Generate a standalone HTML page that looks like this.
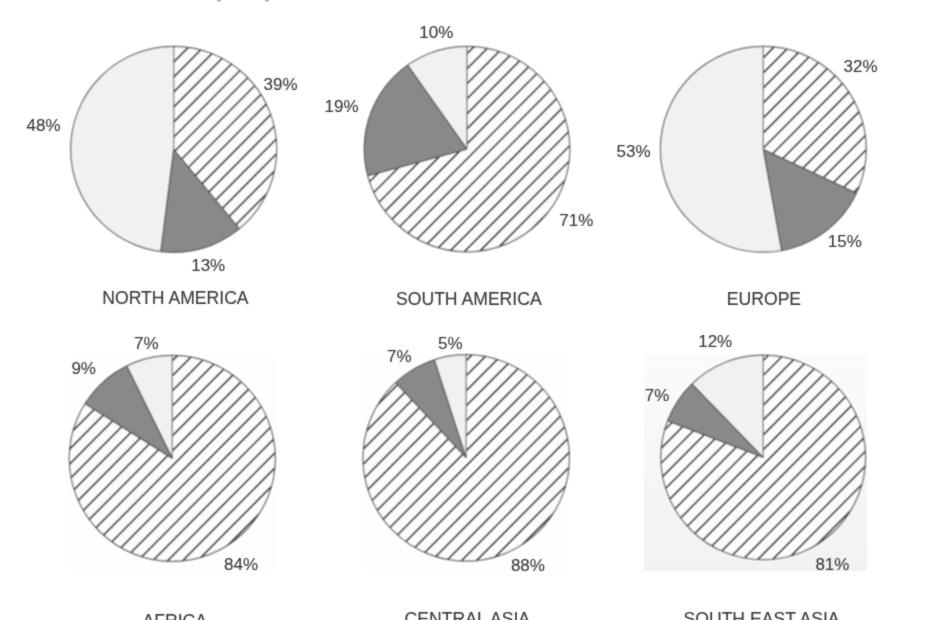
<!DOCTYPE html><html><head><meta charset="utf-8"><style>html,body{margin:0;padding:0;background:#fff;width:930px;height:620px;overflow:hidden}svg{display:block}text{font-family:"Liberation Sans",sans-serif}</style></head><body>
<svg width="930" height="620" viewBox="0 0 930 620">
<defs><filter id="bl" x="-5%" y="-5%" width="110%" height="110%"><feConvolveMatrix order="3" kernelMatrix="1 2 1 2 4 2 1 2 1" divisor="16" edgeMode="none"/></filter><filter id="bt" x="-5%" y="-5%" width="110%" height="110%"><feConvolveMatrix order="3" kernelMatrix="1 2 1 2 16 2 1 2 1" divisor="28" edgeMode="none"/></filter>
<clipPath id="h0"><path d="M173.70,149.30 L173.70,46.30 A103.00,103.00 0 0 1 239.35,228.66 Z"/></clipPath>
<clipPath id="h1"><path d="M467.00,149.10 L467.00,46.30 A102.80,102.80 0 1 1 367.76,175.91 Z"/></clipPath>
<clipPath id="h2"><path d="M763.30,149.30 L763.30,46.40 A102.90,102.90 0 0 1 856.41,193.11 Z"/></clipPath>
<clipPath id="h3"><path d="M172.30,458.40 L172.30,355.40 A103.00,103.00 0 1 1 84.99,403.76 Z"/></clipPath>
<clipPath id="h4"><path d="M466.20,457.90 L466.20,354.70 A103.20,103.20 0 1 1 395.55,382.67 Z"/></clipPath>
<clipPath id="h5"><path d="M763.20,457.40 L763.20,355.10 A102.30,102.30 0 1 1 667.64,420.88 Z"/></clipPath>
</defs>
<rect width="930" height="620" fill="#fff"/>
<defs><linearGradient id="sg" x1="0" y1="0" x2="0" y2="1"><stop offset="0" stop-color="#fbfbfb"/><stop offset="1" stop-color="#f2f2f2"/></linearGradient></defs><rect x="644" y="354" width="223" height="217" fill="url(#sg)"/>
<rect x="361" y="350" width="208" height="221" fill="#fefefe"/>
<rect x="68" y="354" width="209" height="218" fill="#fefefe"/>
<g filter="url(#bl)">
<ellipse cx="219" cy="0" rx="2" ry="1.6" fill="#a0a0a0"/><ellipse cx="267" cy="0" rx="2" ry="1.6" fill="#a0a0a0"/>
<path d="M173.70,149.30 L239.35,228.66 A103.00,103.00 0 0 1 160.79,251.49 Z" fill="#898989"/>
<path d="M173.70,149.30 L160.79,251.49 A103.00,103.00 0 0 1 173.70,46.30 Z" fill="#f1f1f1"/>
<path d="M173.70,149.30 L173.70,46.30 A103.00,103.00 0 0 1 239.35,228.66 Z" fill="#fcfcfc"/>
<path clip-path="url(#h0)" d="M65.70,-24.57L281.70,-241.87M65.70,-9.55L281.70,-226.85M65.70,5.47L281.70,-211.83M65.70,20.49L281.70,-196.81M65.70,35.51L281.70,-181.79M65.70,50.53L281.70,-166.77M65.70,65.55L281.70,-151.75M65.70,80.57L281.70,-136.73M65.70,95.59L281.70,-121.71M65.70,110.61L281.70,-106.69M65.70,125.63L281.70,-91.67M65.70,140.65L281.70,-76.65M65.70,155.67L281.70,-61.63M65.70,170.69L281.70,-46.61M65.70,185.71L281.70,-31.59M65.70,200.73L281.70,-16.57M65.70,215.75L281.70,-1.55M65.70,230.77L281.70,13.47M65.70,245.79L281.70,28.49M65.70,260.81L281.70,43.51M65.70,275.83L281.70,58.53M65.70,290.85L281.70,73.55M65.70,305.87L281.70,88.57M65.70,320.89L281.70,103.59M65.70,335.91L281.70,118.61M65.70,350.93L281.70,133.63M65.70,365.95L281.70,148.65M65.70,380.97L281.70,163.67M65.70,395.99L281.70,178.69M65.70,411.01L281.70,193.71M65.70,426.03L281.70,208.73M65.70,441.05L281.70,223.75M65.70,456.07L281.70,238.77" stroke="#1c1c1c" stroke-width="1.7" fill="none"/>
<line x1="173.70" y1="149.30" x2="173.70" y2="46.30" stroke="#7a7a7a" stroke-width="1.3"/>
<line x1="173.70" y1="149.30" x2="239.35" y2="228.66" stroke="#555" stroke-width="1.3"/>
<line x1="173.70" y1="149.30" x2="160.79" y2="251.49" stroke="#555" stroke-width="1.3"/>
<circle cx="173.70" cy="149.30" r="103.00" fill="none" stroke="#5e5e5e" stroke-width="1.2"/>
<path d="M467.00,149.10 L367.76,175.91 A102.80,102.80 0 0 1 407.63,65.18 Z" fill="#898989"/>
<path d="M467.00,149.10 L407.63,65.18 A102.80,102.80 0 0 1 467.00,46.30 Z" fill="#f1f1f1"/>
<path d="M467.00,149.10 L467.00,46.30 A102.80,102.80 0 1 1 367.76,175.91 Z" fill="#fcfcfc"/>
<path clip-path="url(#h1)" d="M359.20,-18.07L574.80,-234.97M359.20,-3.05L574.80,-219.95M359.20,11.97L574.80,-204.93M359.20,26.99L574.80,-189.91M359.20,42.01L574.80,-174.89M359.20,57.03L574.80,-159.87M359.20,72.05L574.80,-144.85M359.20,87.07L574.80,-129.83M359.20,102.09L574.80,-114.81M359.20,117.11L574.80,-99.79M359.20,132.13L574.80,-84.77M359.20,147.15L574.80,-69.75M359.20,162.17L574.80,-54.73M359.20,177.19L574.80,-39.71M359.20,192.21L574.80,-24.69M359.20,207.23L574.80,-9.67M359.20,222.25L574.80,5.35M359.20,237.27L574.80,20.37M359.20,252.29L574.80,35.39M359.20,267.31L574.80,50.41M359.20,282.33L574.80,65.43M359.20,297.35L574.80,80.45M359.20,312.37L574.80,95.47M359.20,327.39L574.80,110.49M359.20,342.41L574.80,125.51M359.20,357.43L574.80,140.53M359.20,372.45L574.80,155.55M359.20,387.47L574.80,170.57M359.20,402.49L574.80,185.59M359.20,417.51L574.80,200.61M359.20,432.53L574.80,215.63M359.20,447.55L574.80,230.65M359.20,462.57L574.80,245.67" stroke="#1c1c1c" stroke-width="1.7" fill="none"/>
<line x1="467.00" y1="149.10" x2="467.00" y2="46.30" stroke="#7a7a7a" stroke-width="1.3"/>
<line x1="467.00" y1="149.10" x2="367.76" y2="175.91" stroke="#555" stroke-width="1.3"/>
<line x1="467.00" y1="149.10" x2="407.63" y2="65.18" stroke="#555" stroke-width="1.3"/>
<circle cx="467.00" cy="149.10" r="102.80" fill="none" stroke="#5e5e5e" stroke-width="1.2"/>
<path d="M763.30,149.30 L856.41,193.11 A102.90,102.90 0 0 1 781.69,250.54 Z" fill="#898989"/>
<path d="M763.30,149.30 L781.69,250.54 A102.90,102.90 0 1 1 763.30,46.40 Z" fill="#f1f1f1"/>
<path d="M763.30,149.30 L763.30,46.40 A102.90,102.90 0 0 1 856.41,193.11 Z" fill="#fcfcfc"/>
<path clip-path="url(#h2)" d="M655.40,-13.77L871.20,-230.87M655.40,1.25L871.20,-215.85M655.40,16.27L871.20,-200.83M655.40,31.29L871.20,-185.81M655.40,46.31L871.20,-170.79M655.40,61.33L871.20,-155.77M655.40,76.35L871.20,-140.75M655.40,91.37L871.20,-125.73M655.40,106.39L871.20,-110.71M655.40,121.41L871.20,-95.69M655.40,136.43L871.20,-80.67M655.40,151.45L871.20,-65.65M655.40,166.47L871.20,-50.63M655.40,181.49L871.20,-35.61M655.40,196.51L871.20,-20.59M655.40,211.53L871.20,-5.57M655.40,226.55L871.20,9.45M655.40,241.57L871.20,24.47M655.40,256.59L871.20,39.49M655.40,271.61L871.20,54.51M655.40,286.62L871.20,69.53M655.40,301.64L871.20,84.55M655.40,316.67L871.20,99.57M655.40,331.69L871.20,114.59M655.40,346.71L871.20,129.61M655.40,361.73L871.20,144.63M655.40,376.75L871.20,159.65M655.40,391.77L871.20,174.67M655.40,406.79L871.20,189.69M655.40,421.81L871.20,204.71M655.40,436.82L871.20,219.73M655.40,451.84L871.20,234.75M655.40,466.87L871.20,249.77" stroke="#1c1c1c" stroke-width="1.7" fill="none"/>
<line x1="763.30" y1="149.30" x2="763.30" y2="46.40" stroke="#7a7a7a" stroke-width="1.3"/>
<line x1="763.30" y1="149.30" x2="856.41" y2="193.11" stroke="#555" stroke-width="1.3"/>
<line x1="763.30" y1="149.30" x2="781.69" y2="250.54" stroke="#555" stroke-width="1.3"/>
<circle cx="763.30" cy="149.30" r="102.90" fill="none" stroke="#5e5e5e" stroke-width="1.2"/>
<path d="M172.30,458.40 L84.99,403.76 A103.00,103.00 0 0 1 126.81,365.99 Z" fill="#898989"/>
<path d="M172.30,458.40 L126.81,365.99 A103.00,103.00 0 0 1 172.30,355.40 Z" fill="#f1f1f1"/>
<path d="M172.30,458.40 L172.30,355.40 A103.00,103.00 0 1 1 84.99,403.76 Z" fill="#fcfcfc"/>
<path clip-path="url(#h3)" d="M64.30,274.23L280.30,56.93M64.30,289.25L280.30,71.95M64.30,304.27L280.30,86.97M64.30,319.29L280.30,101.99M64.30,334.31L280.30,117.01M64.30,349.33L280.30,132.03M64.30,364.35L280.30,147.05M64.30,379.37L280.30,162.07M64.30,394.39L280.30,177.09M64.30,409.41L280.30,192.11M64.30,424.43L280.30,207.13M64.30,439.45L280.30,222.15M64.30,454.47L280.30,237.17M64.30,469.49L280.30,252.19M64.30,484.51L280.30,267.21M64.30,499.53L280.30,282.23M64.30,514.55L280.30,297.25M64.30,529.57L280.30,312.27M64.30,544.59L280.30,327.29M64.30,559.61L280.30,342.31M64.30,574.63L280.30,357.33M64.30,589.65L280.30,372.35M64.30,604.67L280.30,387.37M64.30,619.69L280.30,402.39M64.30,634.71L280.30,417.41M64.30,649.73L280.30,432.43M64.30,664.75L280.30,447.45M64.30,679.77L280.30,462.47M64.30,694.79L280.30,477.49M64.30,709.81L280.30,492.51M64.30,724.83L280.30,507.53M64.30,739.85L280.30,522.55M64.30,754.87L280.30,537.57" stroke="#1c1c1c" stroke-width="1.7" fill="none"/>
<line x1="172.30" y1="458.40" x2="172.30" y2="355.40" stroke="#7a7a7a" stroke-width="1.3"/>
<line x1="172.30" y1="458.40" x2="84.99" y2="403.76" stroke="#555" stroke-width="1.3"/>
<line x1="172.30" y1="458.40" x2="126.81" y2="365.99" stroke="#555" stroke-width="1.3"/>
<circle cx="172.30" cy="458.40" r="103.00" fill="none" stroke="#5e5e5e" stroke-width="1.2"/>
<path d="M466.20,457.90 L395.55,382.67 A103.20,103.20 0 0 1 434.31,359.75 Z" fill="#898989"/>
<path d="M466.20,457.90 L434.31,359.75 A103.20,103.20 0 0 1 466.20,354.70 Z" fill="#f1f1f1"/>
<path d="M466.20,457.90 L466.20,354.70 A103.20,103.20 0 1 1 395.55,382.67 Z" fill="#fcfcfc"/>
<path clip-path="url(#h4)" d="M358.00,289.33L574.40,71.63M358.00,304.35L574.40,86.65M358.00,319.37L574.40,101.67M358.00,334.39L574.40,116.69M358.00,349.41L574.40,131.71M358.00,364.43L574.40,146.73M358.00,379.45L574.40,161.75M358.00,394.47L574.40,176.77M358.00,409.49L574.40,191.79M358.00,424.51L574.40,206.81M358.00,439.53L574.40,221.83M358.00,454.55L574.40,236.85M358.00,469.57L574.40,251.87M358.00,484.59L574.40,266.89M358.00,499.61L574.40,281.91M358.00,514.63L574.40,296.93M358.00,529.65L574.40,311.95M358.00,544.67L574.40,326.97M358.00,559.69L574.40,341.99M358.00,574.71L574.40,357.01M358.00,589.73L574.40,372.03M358.00,604.75L574.40,387.05M358.00,619.77L574.40,402.07M358.00,634.79L574.40,417.09M358.00,649.81L574.40,432.11M358.00,664.83L574.40,447.13M358.00,679.85L574.40,462.15M358.00,694.87L574.40,477.17M358.00,709.89L574.40,492.19M358.00,724.91L574.40,507.21M358.00,739.93L574.40,522.23M358.00,754.95L574.40,537.25M358.00,769.97L574.40,552.27" stroke="#1c1c1c" stroke-width="1.7" fill="none"/>
<line x1="466.20" y1="457.90" x2="466.20" y2="354.70" stroke="#7a7a7a" stroke-width="1.3"/>
<line x1="466.20" y1="457.90" x2="395.55" y2="382.67" stroke="#555" stroke-width="1.3"/>
<line x1="466.20" y1="457.90" x2="434.31" y2="359.75" stroke="#555" stroke-width="1.3"/>
<circle cx="466.20" cy="457.90" r="103.20" fill="none" stroke="#5e5e5e" stroke-width="1.2"/>
<path d="M763.20,457.40 L667.64,420.88 A102.30,102.30 0 0 1 691.87,384.07 Z" fill="#898989"/>
<path d="M763.20,457.40 L691.87,384.07 A102.30,102.30 0 0 1 763.20,355.10 Z" fill="#f1f1f1"/>
<path d="M763.20,457.40 L763.20,355.10 A102.30,102.30 0 1 1 667.64,420.88 Z" fill="#fcfcfc"/>
<path clip-path="url(#h5)" d="M655.90,289.96L870.50,74.07M655.90,304.84L870.50,88.95M655.90,319.72L870.50,103.83M655.90,334.60L870.50,118.71M655.90,349.48L870.50,133.59M655.90,364.36L870.50,148.47M655.90,379.24L870.50,163.35M655.90,394.12L870.50,178.23M655.90,409.00L870.50,193.11M655.90,423.88L870.50,207.99M655.90,438.76L870.50,222.87M655.90,453.64L870.50,237.75M655.90,468.52L870.50,252.63M655.90,483.40L870.50,267.51M655.90,498.28L870.50,282.39M655.90,513.16L870.50,297.27M655.90,528.04L870.50,312.15M655.90,542.92L870.50,327.03M655.90,557.80L870.50,341.91M655.90,572.68L870.50,356.79M655.90,587.56L870.50,371.67M655.90,602.44L870.50,386.55M655.90,617.32L870.50,401.43M655.90,632.20L870.50,416.31M655.90,647.08L870.50,431.19M655.90,661.96L870.50,446.07M655.90,676.84L870.50,460.95M655.90,691.72L870.50,475.83M655.90,706.60L870.50,490.71M655.90,721.48L870.50,505.59M655.90,736.36L870.50,520.47M655.90,751.24L870.50,535.35M655.90,766.12L870.50,550.23" stroke="#1c1c1c" stroke-width="1.7" fill="none"/>
<line x1="763.20" y1="457.40" x2="763.20" y2="355.10" stroke="#7a7a7a" stroke-width="1.3"/>
<line x1="763.20" y1="457.40" x2="667.64" y2="420.88" stroke="#555" stroke-width="1.3"/>
<line x1="763.20" y1="457.40" x2="691.87" y2="384.07" stroke="#555" stroke-width="1.3"/>
<circle cx="763.20" cy="457.40" r="102.30" fill="none" stroke="#5e5e5e" stroke-width="1.2"/>
</g>
<g filter="url(#bt)">
<text x="263.5" y="90.3" font-size="17" fill="#383838" stroke="#383838" stroke-width="0.1">39%</text>
<text x="26.5" y="130.9" font-size="17" fill="#383838" stroke="#383838" stroke-width="0.1">48%</text>
<text x="191.2" y="270.6" font-size="17" fill="#383838" stroke="#383838" stroke-width="0.1">13%</text>
<text x="419.3" y="38.0" font-size="17" fill="#383838" stroke="#383838" stroke-width="0.1">10%</text>
<text x="324.6" y="111.9" font-size="17" fill="#383838" stroke="#383838" stroke-width="0.1">19%</text>
<text x="559.3" y="226.2" font-size="17" fill="#383838" stroke="#383838" stroke-width="0.1">71%</text>
<text x="843.5" y="72.2" font-size="17" fill="#383838" stroke="#383838" stroke-width="0.1">32%</text>
<text x="616.5" y="156.9" font-size="17" fill="#383838" stroke="#383838" stroke-width="0.1">53%</text>
<text x="827.8" y="247.2" font-size="17" fill="#383838" stroke="#383838" stroke-width="0.1">15%</text>
<text x="134.1" y="348.8" font-size="17" fill="#383838" stroke="#383838" stroke-width="0.1">7%</text>
<text x="71.4" y="373.7" font-size="17" fill="#383838" stroke="#383838" stroke-width="0.1">9%</text>
<text x="224.1" y="570.4" font-size="17" fill="#383838" stroke="#383838" stroke-width="0.1">84%</text>
<text x="387.0" y="361.6" font-size="17" fill="#383838" stroke="#383838" stroke-width="0.1">7%</text>
<text x="438.0" y="348.7" font-size="17" fill="#383838" stroke="#383838" stroke-width="0.1">5%</text>
<text x="510.9" y="570.8" font-size="17" fill="#383838" stroke="#383838" stroke-width="0.1">88%</text>
<text x="698.2" y="346.9" font-size="17" fill="#383838" stroke="#383838" stroke-width="0.1">12%</text>
<text x="644.7" y="401.1" font-size="17" fill="#383838" stroke="#383838" stroke-width="0.1">7%</text>
<text x="815.4" y="569.5" font-size="17" fill="#383838" stroke="#383838" stroke-width="0.1">81%</text>
<text x="102.3" y="304.3" font-size="17.6" fill="#383838" stroke="#383838" stroke-width="0.1">NORTH AMERICA</text>
<text x="396.0" y="304.6" font-size="17.6" fill="#383838" stroke="#383838" stroke-width="0.1">SOUTH AMERICA</text>
<text x="726.8" y="304.5" font-size="17.6" fill="#383838" stroke="#383838" stroke-width="0.1">EUROPE</text>
<text x="142.5" y="626.6" font-size="17.6" fill="#383838" stroke="#383838" stroke-width="0.1">AFRICA</text>
<text x="404.6" y="625.2" font-size="17.6" fill="#383838" stroke="#383838" stroke-width="0.1">CENTRAL ASIA</text>
<text x="683.5" y="624.6" font-size="17.6" fill="#383838" stroke="#383838" stroke-width="0.1">SOUTH EAST ASIA</text>
</g>
</svg></body></html>
